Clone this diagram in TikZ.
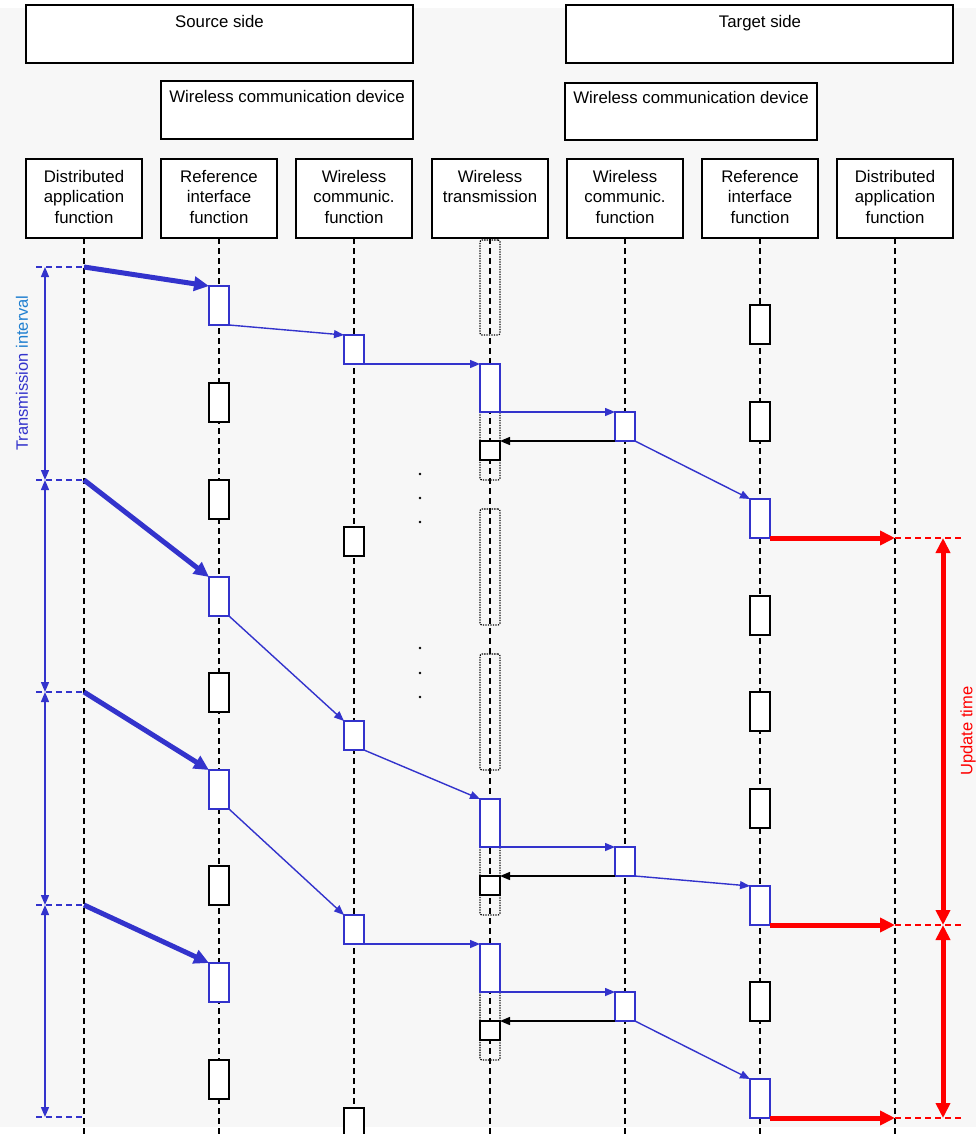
\documentclass[tikz,border=0pt]{standalone}
\usepackage{fontspec}
\setmainfont{Liberation Sans}
\usetikzlibrary{arrows.meta}
\definecolor{bgc}{HTML}{F7F7F7}
\definecolor{fblue}{HTML}{3333CC}
\definecolor{lblue}{HTML}{1F7FD0}
\definecolor{fred}{HTML}{FF0000}
\tikzset{
  hbox/.style={draw, fill=white, line width=1.3pt, inner sep=0pt, outer sep=0pt},
  lbl/.style={font=\fontsize{16.8}{20.5}\selectfont, align=center, inner sep=0pt},
  life/.style={draw=black, line width=1.3pt, dash pattern=on 6pt off 4pt},
  act/.style={draw=black, fill=white, line width=1.3pt, minimum width=20pt, inner sep=0pt, outer sep=0pt, anchor=north},
  actb/.style={act, draw=fblue},
  slot/.style={draw=black, line width=1.2pt, dash pattern=on 1.3pt off 1.2pt, rounded corners=2pt, minimum width=20pt, inner sep=0pt, outer sep=0pt, anchor=north},
  thickarr/.style={draw=fblue, line width=5pt, -{Triangle[length=15pt,width=14pt]}},
  msg/.style={draw=fblue, line width=1.4pt, -{Triangle[length=10pt,width=8pt]}},
  ack/.style={draw=black, line width=1.4pt, -{Triangle[length=10pt,width=8pt]}},
  upd/.style={draw=fred, line width=5pt, -{Triangle[length=15pt,width=14pt]}},
  span/.style={draw=fred, line width=5pt, {Triangle[length=15pt,width=14pt]}-{Triangle[length=15pt,width=14pt]}},
  tick/.style={line width=1.2pt, dash pattern=on 6pt off 4pt},
  ivl/.style={draw=fblue, line width=1.4pt, {Triangle[length=10pt,width=8pt]}-{Triangle[length=10pt,width=8pt]}},
}
\begin{document}
\begin{tikzpicture}[x=1pt,y=-1pt]
\useasboundingbox (0,0) rectangle (976,1134);
\fill[bgc] (0,8) rectangle (976,1127);
\clip (0,0) rectangle (976,1134);

% side and device headers
\node[hbox, anchor=north west, minimum width=387pt, minimum height=58pt] (src) at (26,5) {};
\node[hbox, anchor=north west, minimum width=387pt, minimum height=58pt] (tgt) at (566,5) {};
\node[hbox, anchor=north west, minimum width=252pt, minimum height=58pt] (dev1) at (161,81) {};
\node[hbox, anchor=north west, minimum width=252pt, minimum height=57pt] (dev2) at (565,83) {};
\node[lbl, anchor=base] (srct) at (219.5,27.5) {Source side};
\node[lbl, anchor=base] (tgtt) at (760,27.5) {Target side};
\node[lbl, anchor=base] (dev1t) at (287,103) {Wireless communication device};
\node[lbl, anchor=base] (dev2t) at (691,104) {Wireless communication device};

% function columns
\foreach \n/\x in {c1/84,c2/219,c3/354,c4/490,c5/625,c6/760,c7/895}
  \node[hbox, anchor=north, minimum width=116pt, minimum height=79pt] (\n) at (\x,159) {};
\node[lbl, anchor=north] (c1t) at (84,170) {Distributed\\application\\function};
\node[lbl, anchor=north] (c2t) at (219,170) {Reference\\interface\\function};
\node[lbl, anchor=north] (c3t) at (354,170) {Wireless\\communic.\\function};
\node[lbl, anchor=north] (c4t) at (490,170) {Wireless\\transmission};
\node[lbl, anchor=north] (c5t) at (625,170) {Wireless\\communic.\\function};
\node[lbl, anchor=north] (c6t) at (760,170) {Reference\\interface\\function};
\node[lbl, anchor=north] (c7t) at (895,170) {Distributed\\application\\function};

% transmission slots of the radio channel
\node[slot, minimum height=95pt] (d0) at (490,240) {};
\foreach \n/\y in {d1/364,d2/509,d3/654,d4/799,d5/944}
  \node[slot, minimum height=116pt] (\n) at (490,\y) {};

% lifelines
\foreach \n/\x in {c1/84,c2/219,c3/354,c4/490,c5/625,c6/760,c7/895} {
  \coordinate (\n e) at (\x,1134);
  \draw[life] (\n.south) -- (\n e);
}

% reference interface function, source
\node[actb, minimum height=39pt] (r1) at (219,286) {};
\node[act,  minimum height=39pt] (r2) at (219,383) {};
\node[act,  minimum height=39pt] (r3) at (219,480) {};
\node[actb, minimum height=39pt] (r4) at (219,577) {};
\node[act,  minimum height=39pt] (r5) at (219,673) {};
\node[actb, minimum height=39pt] (r6) at (219,770) {};
\node[act,  minimum height=39pt] (r7) at (219,866) {};
\node[actb, minimum height=39pt] (r8) at (219,963) {};
\node[act,  minimum height=39pt] (r9) at (219,1060) {};

% wireless communication function, source
\node[actb, minimum height=29pt] (w1) at (354,335) {};
\node[act,  minimum height=29pt] (w2) at (354,527) {};
\node[actb, minimum height=29pt] (w3) at (354,721) {};
\node[actb, minimum height=29pt] (w4) at (354,915) {};
\node[act,  minimum height=29pt] (w5) at (354,1108) {};

% wireless transmission
\node[actb, minimum height=48pt] (t1) at (490,364) {};
\node[act,  minimum height=19pt] (k1) at (490,441) {};
\node[actb, minimum height=48pt] (t2) at (490,799) {};
\node[act,  minimum height=19pt] (k2) at (490,876) {};
\node[actb, minimum height=48pt] (t3) at (490,944) {};
\node[act,  minimum height=19pt] (k3) at (490,1021) {};

% wireless communication function, target
\node[actb, minimum height=29pt] (v1) at (625,412) {};
\node[actb, minimum height=29pt] (v2) at (625,847) {};
\node[actb, minimum height=29pt] (v3) at (625,992) {};

% reference interface function, target
\node[act,  minimum height=39pt] (s1) at (760,305) {};
\node[act,  minimum height=39pt] (s2) at (760,402) {};
\node[actb, minimum height=39pt] (s3) at (760,499) {};
\node[act,  minimum height=39pt] (s4) at (760,596) {};
\node[act,  minimum height=39pt] (s5) at (760,692) {};
\node[act,  minimum height=39pt] (s6) at (760,789) {};
\node[actb, minimum height=39pt] (s7) at (760,886) {};
\node[act,  minimum height=39pt] (s8) at (760,982) {};
\node[actb, minimum height=39pt] (s9) at (760,1079) {};

% ellipsis dots
\foreach \y in {474,498,522,648,673,697}
  \fill (420,\y) circle (1.3pt);

% transmission interval
\foreach \i/\y in {1/267,2/480,3/692,4/905,5/1117} {
  \coordinate (a\i) at (84,\y);
  \coordinate (m\i) at (45,\y);
  \draw[tick, draw=fblue] (36,\y) -- (a\i);
}
\foreach \i/\j in {1/2,2/3,3/4,4/5}
  \draw[ivl] (m\i) -- (m\j);
\node[font=\fontsize{16.5}{20}\selectfont, rotate=90, inner sep=0pt] (ivt) at (22,373)
  {\textcolor{fblue}{Transmission} \textcolor{lblue}{interval}};

% cyclic updates from the application
\draw[thickarr] (a1) -- (r1.north west);
\draw[thickarr] (a2) -- (r4.north west);
\draw[thickarr] (a3) -- (r6.north west);
\draw[thickarr] (a4) -- (r8.north west);

% message paths
\draw[msg] (r1.south east) -- (w1.north west);
\draw[msg] (w1.south east) -- (t1.north west);
\draw[msg] (t1.south east) -- (v1.north west);
\draw[ack] (v1.south west) -- (k1.north east);
\draw[msg] (v1.south east) -- (s3.north west);

\draw[msg] (r4.south east) -- (w3.north west);
\draw[msg] (w3.south east) -- (t2.north west);
\draw[msg] (t2.south east) -- (v2.north west);
\draw[ack] (v2.south west) -- (k2.north east);
\draw[msg] (v2.south east) -- (s7.north west);

\draw[msg] (r6.south east) -- (w4.north west);
\draw[msg] (w4.south east) -- (t3.north west);
\draw[msg] (t3.south east) -- (v3.north west);
\draw[ack] (v3.south west) -- (k3.north east);
\draw[msg] (v3.south east) -- (s9.north west);

% delivery to the target application and update time
\coordinate (u1) at (895,538);
\coordinate (u2) at (895,925);
\coordinate (u3) at (895,1118);
\draw[upd] (s3.south east) -- (u1);
\draw[upd] (s7.south east) -- (u2);
\draw[upd] (s9.south east) -- (u3);
\foreach \i/\y in {1/538,2/925,3/1118} {
  \coordinate (n\i) at (943,\y);
  \draw[tick, draw=fred] (u\i) -- (963,\y);
}
\draw[span] (n1) -- (n2);
\draw[span] (n2) -- (n3);
\node[font=\fontsize{16.5}{20}\selectfont, text=fred, rotate=90, inner sep=0pt] (updt) at (968,731) {Update time};
\end{tikzpicture}
\end{document}
